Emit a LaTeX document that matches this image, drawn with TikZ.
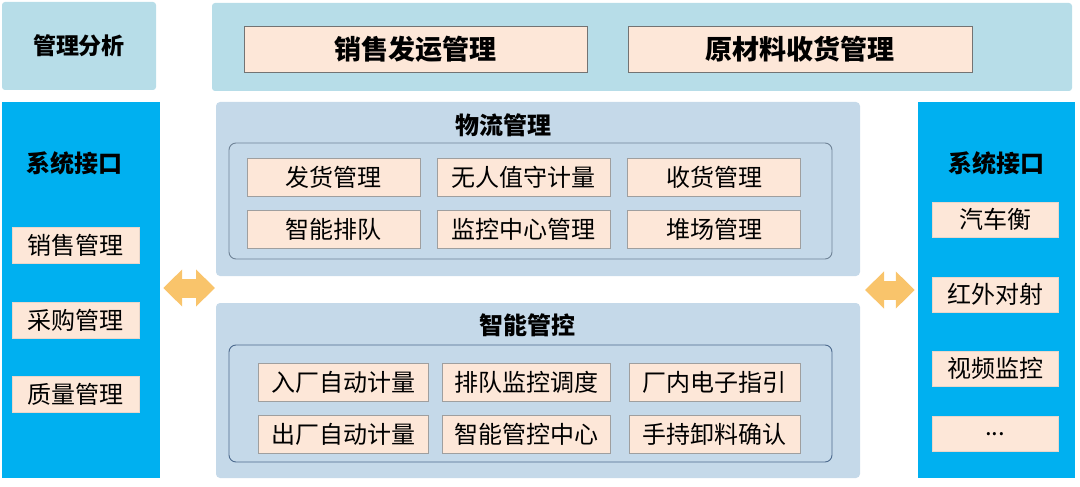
\documentclass[tikz,border=0pt]{standalone}
\usepackage{fontspec}
\setmainfont{Noto Sans CJK SC}
\usetikzlibrary{arrows.meta}
\definecolor{bandblue}{HTML}{B7DDE8}
\definecolor{sideblue}{HTML}{00B0F0}
\definecolor{panelblue}{HTML}{C5D9E9}
\definecolor{peach}{HTML}{FDE7D8}
\definecolor{arrowor}{HTML}{F9C46B}
\definecolor{frameline}{HTML}{6F8397}
\definecolor{frameblue}{HTML}{4C6A8E}
\begin{document}
\begin{tikzpicture}[x=1pt, y=-1pt, inner sep=0pt,
  band/.style={fill=bandblue, rounded corners=3pt},
  side/.style={fill=sideblue},
  panel/.style={fill=panelblue, rounded corners=4pt},
  frame/.style={draw=frameline, line width=0.9pt, rounded corners=7pt},
  item/.style={draw=gray!75, fill=peach, line width=0.6pt, minimum height=38pt, font=\fontsize{24}{24}\selectfont},
  sitem/.style={fill=peach, draw=peach!85!gray, minimum width=127pt, minimum height=36pt, font=\fontsize{24}{24}\selectfont},
  head/.style={font=\fontsize{24}{24}\selectfont\bfseries},
  bighead/.style={font=\fontsize{27}{27}\selectfont\bfseries},
  fat/.style={draw=arrowor, line width=19pt, {Triangle[width=36pt,length=19pt]}-{Triangle[width=36pt,length=19pt]}}]
\useasboundingbox (0,0) rectangle (1080,487);
% top band
\node[band, minimum width=154pt, minimum height=88pt] (ana) at (79,46) {};
\node[head, font=\fontsize{23}{23}\selectfont\bfseries] at (ana.center) {管理分析};
\node[band, minimum width=860pt, minimum height=88pt] (top) at (642,47) {};
\node[item, draw=gray!90!black, bighead, minimum width=343pt, minimum height=46pt] (ship) at (415.5,49) {销售发运管理};
\node[item, draw=gray!90!black, bighead, minimum width=344pt, minimum height=46pt] (recv) at (800,49) {原材料收货管理};
% side columns
\node[side, minimum width=158pt, minimum height=376pt] (lcol) at (81,290) {};
\node[head] (ltitle) at (75,163) {系统接口};
\foreach \txt/\y [count=\i] in {销售管理/245, 采购管理/320, 质量管理/394}
  \node[sitem] (l\i) at (75.5,\y) {\txt};
\node[side, minimum width=157pt, minimum height=376pt] (rcol) at (996.5,290) {};
\node[head] (rtitle) at (996,163) {系统接口};
\foreach \txt/\y [count=\i] in {汽车衡/219.5, 红外对射/294.5, 视频监控/368.5}
  \node[sitem, minimum width=126pt, minimum height=35pt] (r\i) at (995,\y) {\txt};
\node[sitem, minimum width=126pt, minimum height=35pt] (r4) at (995,434) {...};
% logistics panel
\node[panel, minimum width=644pt, minimum height=174pt] (wl) at (538,189) {};
\node[head] (wltitle) at (503,125) {物流管理};
\node[frame, minimum width=603pt, minimum height=116pt] (wlbox) at (530.5,201) {};
\foreach \txt/\x/\y in {发货管理/333.5/177, 无人值守计量/523.5/177, 收货管理/714/177,
  智能排队/333.5/229, 监控中心管理/523.5/229, 堆场管理/714/229}
  \node[item, minimum width=173pt] at (\x,\y) {\txt};
% control panel
\node[panel, minimum width=644pt, minimum height=175pt] (zn) at (538,390.5) {};
\node[head] (zntitle) at (527,325) {智能管控};
\node[frame, draw=frameblue, minimum width=603pt, minimum height=117pt] (znbox) at (530.5,403.5) {};
\foreach \txt/\x/\w/\y in {入厂自动计量/343/170/382, 排队监控调度/526/168/382, 厂内电子指引/714.5/171/382,
  出厂自动计量/343/170/434, 智能管控中心/526/168/434, 手持卸料确认/714.5/171/434}
  \node[item, minimum width=\w pt] at (\x,\y) {\txt};
% arrows
\coordinate (la) at (lcol.east |- 0,288);
\coordinate (lb) at (215,288);
\coordinate (ra) at (865,290);
\coordinate (rb) at (rcol.west |- 0,290);
\draw[fat] ([xshift=3pt]la) -- (lb);
\draw[fat] (ra) -- ([xshift=-3pt]rb);
\end{tikzpicture}
\end{document}
